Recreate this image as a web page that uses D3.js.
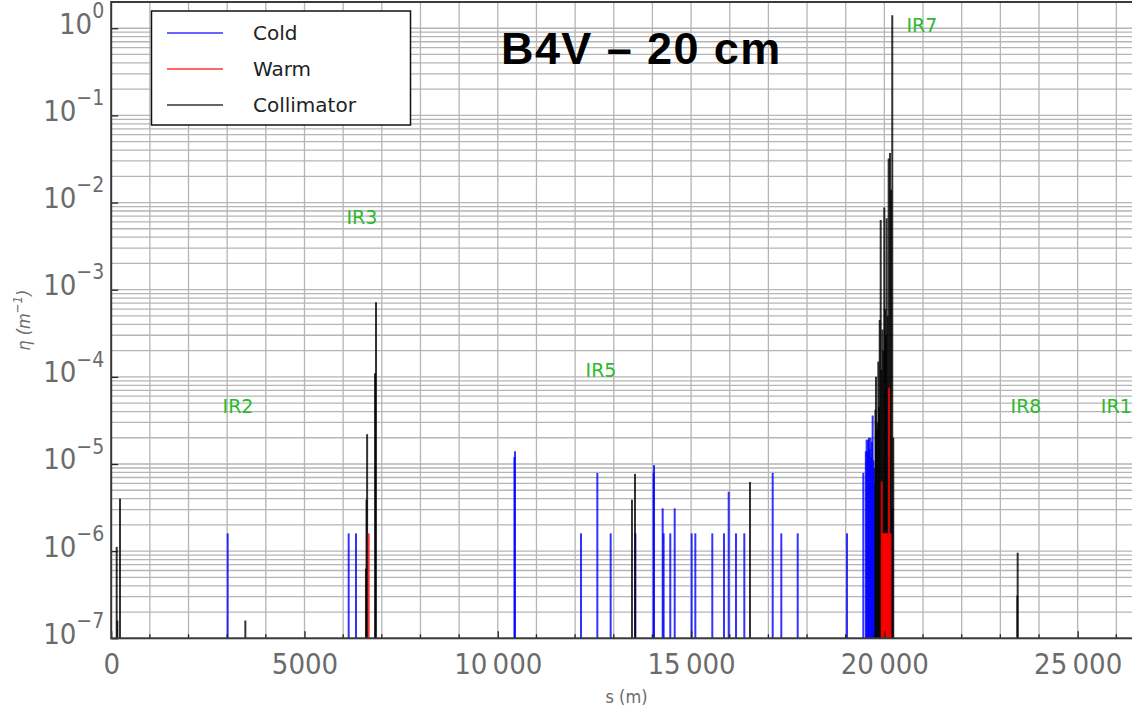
<!DOCTYPE html>
<html>
<head>
<meta charset="utf-8">
<script src="https://cdn.jsdelivr.net/npm/d3@7"></script>
<style>
  html, body { margin: 0; padding: 0; background: #fff; }
  svg { display: block; }
  .cond { font-family: "DejaVu Sans Condensed", "DejaVu Sans", sans-serif; font-stretch: condensed; }
</style>
</head>
<body>
<svg id="chart" width="1132" height="710"></svg>
<script>
// Loss map, beam 4 vertical, 20 cm: local cleaning inefficiency eta along s.

// Cold magnets (s in m, eta in 1/m)
const coldS = [3013, 6143, 6332, 10430, 10445, 12152, 12575, 12920, 13560, 14030, 14041,
  14265, 14290, 14462, 14576, 15015, 15110, 15549, 15851, 15973, 16162, 16377,
  17111, 17334, 17758, 19033, 19455, 19520, 19541, 19560, 19580, 19600, 19620, 19640,
  19660, 19680, 19697, 19715, 19735, 19750, 20209];
const coldEta = [1.6e-6, 1.6e-6, 1.6e-6, 1.2e-5, 1.4e-5, 1.6e-6, 7.9e-6, 1.6e-6, 1.6e-6, 8.0e-6, 9.7e-6,
  3.1e-6, 1.6e-6, 1.6e-6, 3.1e-6, 1.6e-6, 1.6e-6, 1.6e-6, 1.6e-6, 4.8e-6, 1.6e-6, 1.6e-6,
  7.9e-6, 1.6e-6, 1.6e-6, 1.6e-6, 7.9e-6, 1.4e-5, 1.9e-5, 1.4e-5, 1.9e-5, 2.0e-5, 1.5e-5, 2.0e-5,
  1.2e-5, 1.8e-5, 3.6e-5, 1.1e-5, 9.0e-6, 6.0e-6, 3.1e-6];

// Warm magnets
const warmS = [6660, 19930, 19950, 19970, 19990, 20010, 20030, 20050, 20070, 20095, 20119, 20140, 20160];
const warmEta = [1.6e-6, 6.3e-6, 1.6e-6, 1.6e-6, 1.6e-6, 1.6e-6, 1.6e-6, 1.6e-6, 1.6e-6, 1.6e-6, 7.5e-5, 1.6e-6, 1.6e-6];

// Collimators
const collS = [142, 160, 228, 3470, 6590, 6605, 6620, 6824, 6850, 13471, 13549, 16524,
  19770, 19783, 19800, 19820, 19843, 19860, 19880, 19905, 19925, 19950, 19975, 19998,
  20020, 20040, 20058, 20085, 20111, 20145, 20175, 20204, 20230, 23440, 23448];
const collEta = [1.12e-6, 1.6e-7, 4.0e-6, 1.6e-7, 6.3e-7, 3.9e-6, 2.2e-5, 1.1e-4, 7.2e-4, 3.9e-6, 7.7e-6, 6.2e-6,
  4.2e-5, 1.0e-4, 2.5e-5, 3.0e-5, 1.5e-4, 4.5e-5, 4.5e-4, 6.3e-3, 1.2e-4, 3.5e-4, 2.0e-4, 8.8e-3,
  6.0e-4, 3.0e-4, 6.6e-3, 5.0e-4, 3.2e-2, 3.7e-2, 1.4e-2, 1.41, 2.0e-5, 3.1e-7, 9.6e-7];

// Interaction region markers
const irNames = ["IR2", "IR3", "IR5", "IR7", "IR8", "IR1"];
const irS = [3280, 6487, 12670, 20972, 23664, 26000];
const irEta = [3.8e-5, 5.6e-3, 1.0e-4, 0.91, 3.8e-5, 3.8e-5];

// Axis ticks
const xTicks = [0, 5000, 10000, 15000, 20000, 25000];
const xTickLabels = ["0", "5000", "10\u2009000", "15\u2009000", "20\u2009000", "25\u2009000"];
const yExponents = [-7, -6, -5, -4, -3, -2, -1, 0];

const legendNames = ["Cold", "Warm", "Collimator"];
const legendColors = ["#0000ff", "#ff0000", "#000000"];

(function () {
  const svg = d3.select("#chart");
  const pLeft = 111.2, pRight = 1141.8, pTop = 2, pBottom = 638.3;

  const x = d3.scaleLinear().domain([0, 26659]).range([pLeft, pRight]);
  const y = d3.scaleLog().domain([1e-7, 2]).range([pBottom, pTop]);

  const grid = svg.append("g");
  // vertical grid every 1000 m
  d3.range(0, 27000, 1000).forEach(s => {
    grid.append("line")
      .attr("x1", x(s)).attr("x2", x(s)).attr("y1", pTop).attr("y2", pBottom)
      .attr("stroke", "#b5b5b5").attr("stroke-width", 1.3);
  });
  // horizontal grid at 1..9 x 10^k
  const yGridVals = [];
  yExponents.forEach(k => d3.range(1, 10).forEach(m => {
    const v = m * Math.pow(10, k);
    if (v <= 2) yGridVals.push(v);
  }));
  yGridVals.forEach(v => {
    grid.append("line")
      .attr("x1", pLeft).attr("x2", pRight).attr("y1", y(v)).attr("y2", y(v))
      .attr("stroke", "#b5b5b5").attr("stroke-width", 1.3);
  });

  // spikes
  function drawSeries(sArr, eArr, color) {
    svg.append("g").selectAll("line")
      .data(sArr.map((s, i) => ({ s, e: eArr[i] })))
      .join("line")
      .attr("x1", d => x(d.s)).attr("x2", d => x(d.s))
      .attr("y1", y(1e-7)).attr("y2", d => y(d.e))
      .attr("stroke", color).attr("stroke-width", 2).attr("stroke-opacity", 0.8);
  }
  drawSeries(coldS, coldEta, "#0000ff");
  drawSeries(collS, collEta, "#000000");
  drawSeries(warmS, warmEta, "#ff0000");

  // IR labels
  svg.append("g").selectAll("text")
    .data(irNames)
    .join("text")
    .attr("x", (d, i) => x(irS[i]))
    .attr("y", (d, i) => y(irEta[i]))
    .attr("text-anchor", "middle")
    .attr("font-family", "DejaVu Sans")
    .attr("font-size", 19)
    .attr("fill", "#2db82d")
    .text(d => d);

  // axes (ticks inside)
  const tickColor = "#6b6b6b";
  const xAxisG = svg.append("g").attr("transform", `translate(0,${pBottom})`)
    .call(d3.axisBottom(x).tickValues(xTicks).tickSizeInner(-7).tickSizeOuter(0)
      .tickPadding(15).tickFormat((d, i) => xTickLabels[i]));
  xAxisG.select(".domain").remove();
  xAxisG.selectAll("line").attr("stroke", "#222").attr("stroke-width", 1.3);
  xAxisG.selectAll("text").attr("class", "cond").attr("font-size", 29).attr("fill", tickColor);

  // minor x ticks
  svg.append("g").selectAll("line")
    .data(d3.range(1000, 27000, 1000).filter(s => s % 5000 !== 0))
    .join("line")
    .attr("x1", d => x(d)).attr("x2", d => x(d)).attr("y1", pBottom).attr("y2", pBottom - 4)
    .attr("stroke", "#222").attr("stroke-width", 1.3);

  const yAxisG = svg.append("g").attr("transform", `translate(${pLeft},0)`)
    .call(d3.axisLeft(y).tickValues(yExponents.map(k => Math.pow(10, k)))
      .tickSizeInner(-7).tickSizeOuter(0).tickPadding(8).tickFormat(() => ""));
  yAxisG.select(".domain").remove();
  yAxisG.selectAll("line").attr("stroke", "#222").attr("stroke-width", 1.3);
  yAxisG.selectAll(".tick text").each(function (d) {
    const k = Math.round(Math.log10(d));
    const t = d3.select(this)
      .attr("class", "cond").attr("fill", tickColor)
      .attr("dy", "0.5em").attr("x", -7);
    t.append("tspan").attr("font-size", 29).text("10");
    t.append("tspan").attr("font-size", 21).attr("dy", "-0.75em").text(k < 0 ? "\u2212" + (-k) : String(k));
  });

  // frame
  svg.append("rect").attr("x", pLeft).attr("y", pTop).attr("width", pRight - pLeft).attr("height", pBottom - pTop)
    .attr("fill", "none").attr("stroke", "#3a3a3a").attr("stroke-width", 2);

  // axis titles
  svg.append("text").attr("x", (pLeft + pRight) / 2).attr("y", 703)
    .attr("text-anchor", "middle").attr("class", "cond").attr("font-size", 18)
    .attr("fill", tickColor).text("s (m)");
  const yl = svg.append("text")
    .attr("transform", `translate(30,${(pTop + pBottom) / 2}) rotate(-90)`)
    .attr("text-anchor", "middle").attr("class", "cond").attr("font-size", 18)
    .attr("fill", tickColor);
  yl.append("tspan").attr("font-style", "italic").text("\u03b7 (m");
  yl.append("tspan").attr("font-size", 13).attr("dy", "-0.6em").attr("font-style", "italic").text("\u22121");
  yl.append("tspan").attr("dy", "0.42em").attr("font-style", "italic").text(")");

  // legend
  const lg = svg.append("g");
  lg.append("rect").attr("x", 151.5).attr("y", 11).attr("width", 259).attr("height", 114)
    .attr("fill", "#fff").attr("stroke", "#111").attr("stroke-width", 1.5);
  legendNames.forEach((name, i) => {
    const ly = 33 + i * 36;
    lg.append("line").attr("x1", 167).attr("x2", 223).attr("y1", ly).attr("y2", ly)
      .attr("stroke", legendColors[i]).attr("stroke-width", 2).attr("stroke-opacity", 0.6);
    lg.append("text").attr("x", 253).attr("y", ly + 7)
      .attr("font-family", "DejaVu Sans").attr("font-size", 20).attr("fill", "#222").text(name);
  });

  // title
  svg.append("text").attr("x", 501).attr("y", 64)
    .attr("font-family", "Liberation Sans, Arial, sans-serif").attr("font-weight", "bold")
    .attr("font-size", 45).attr("letter-spacing", 1.4).attr("fill", "#000").text("B4V \u2013 20 cm");
})();
</script>
</body>
</html>
